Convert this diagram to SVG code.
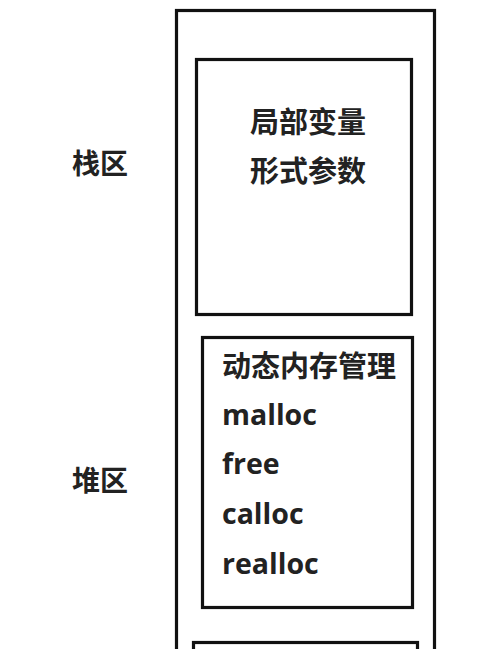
<svg xmlns="http://www.w3.org/2000/svg" width="500" height="649" viewBox="0 0 500 649">
<style>
.box{fill:none;stroke:#111;stroke-width:3.2}
.cjk{font-family:"Noto Sans CJK SC","Noto Sans",sans-serif;font-weight:bold;fill:#222}
.lat{font-family:"Open Sans","Noto Sans CJK SC",sans-serif;font-weight:bold;fill:#222;font-size:28.5px}
</style>
<rect width="500" height="649" fill="#fff"/>
<g id="memory">
<rect class="box" x="176.5" y="10.5" width="258" height="660"/>
</g>
<g id="stack-label"><text class="cjk" x="72" y="174" font-size="28">栈区</text></g>
<g id="heap-label"><text class="cjk" x="72" y="491" font-size="28">堆区</text></g>
<g id="stack">
<rect class="box" x="196.5" y="59.5" width="215" height="255"/>
<text class="cjk" x="308" y="133" font-size="29" text-anchor="middle">局部变量</text>
<text class="cjk" x="308" y="182" font-size="29" text-anchor="middle">形式参数</text>
</g>
<g id="heap">
<rect class="box" x="202.5" y="337.5" width="210" height="270"/>
<text class="cjk" x="222" y="377" font-size="29">动态内存管理</text>
<text class="lat" x="222" y="425">malloc</text>
<text class="lat" x="222" y="474">free</text>
<text class="lat" x="222" y="524">calloc</text>
<text class="lat" x="222" y="574">realloc</text>
</g>
<g id="next">
<rect class="box" x="193.5" y="642.5" width="224" height="40"/>
</g>
<g id="connectors"></g>
</svg>
